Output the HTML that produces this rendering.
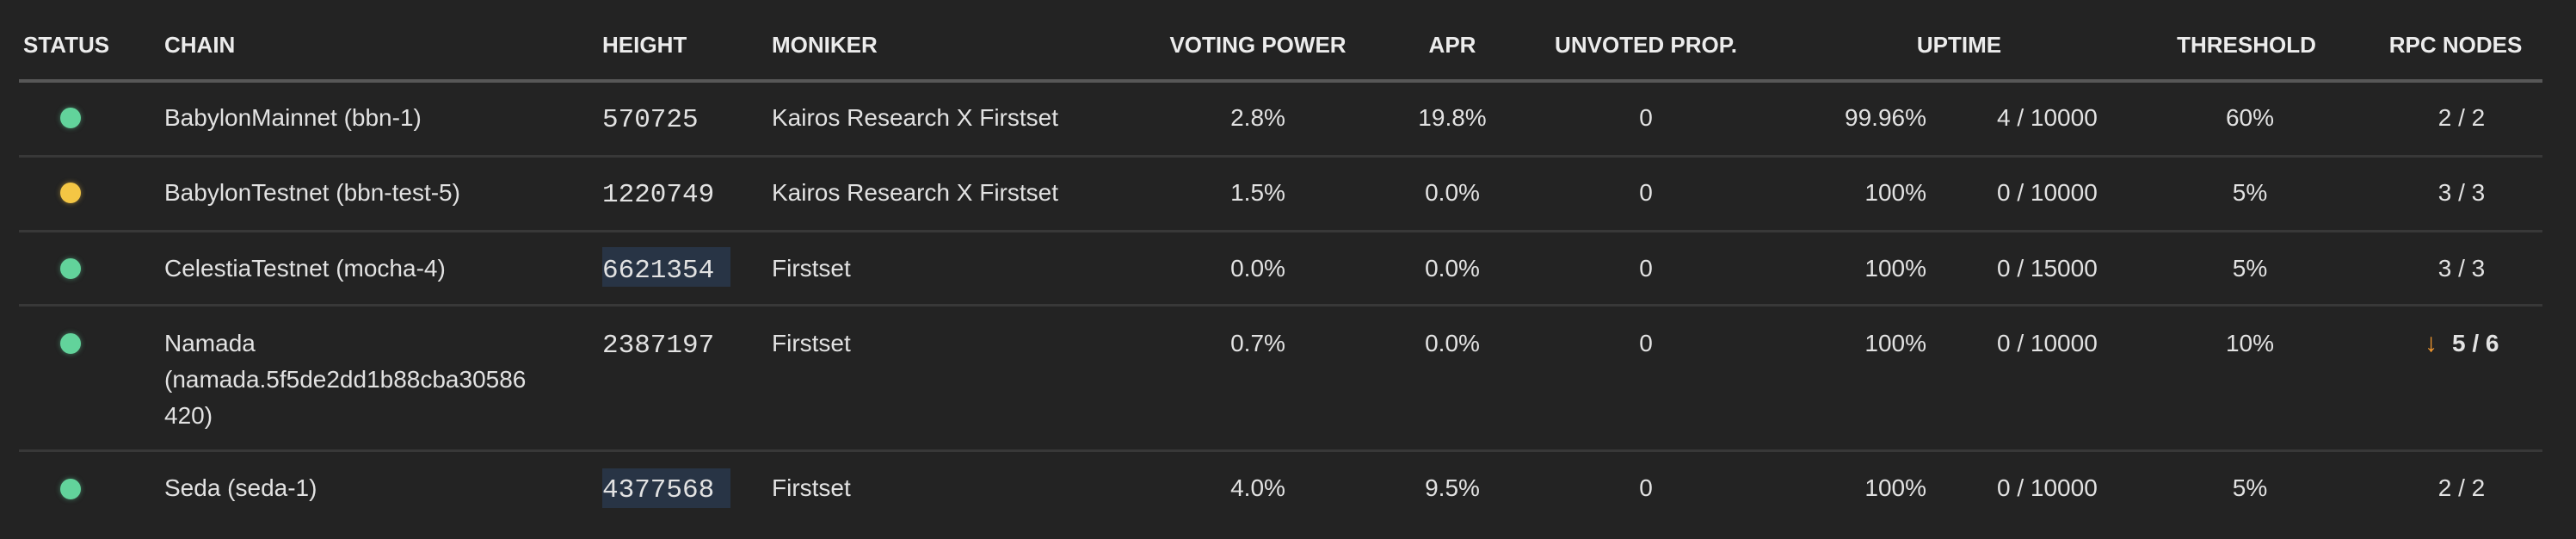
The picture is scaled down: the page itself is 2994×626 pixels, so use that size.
<!DOCTYPE html>
<html><head><meta charset="utf-8"><style>
body{margin:0;width:2994px;height:626px;background:#232323;overflow:hidden;font-family:"Liberation Sans",sans-serif;color:#e2e2e2;position:relative}
.t{position:absolute;white-space:nowrap;font-size:28px;line-height:40px}
.h{font-weight:bold;font-size:26px;color:#ececec}
.c{transform:translateX(-50%)}
.r{transform:translateX(-100%)}
.m{font-family:"Liberation Mono",monospace;font-size:31px;margin-top:3px}
.line{position:absolute;left:22px;width:2933px;height:3px;background:#383838}
.dot{position:absolute;width:24px;height:24px;border-radius:50%;left:70px}
.g{background:#62d39b;box-shadow:0 0 6px rgba(98,211,155,.5)}
.y{background:#f4c644;box-shadow:0 0 6px rgba(244,198,68,.5)}
.hl{position:absolute;left:700px;width:149px;height:46px;background:#283445}
</style></head><body>
<div class="line" style="top:92px;height:4px;background:#575757"></div>
<div class="t h" style="left:27px;top:32px">STATUS</div>
<div class="t h" style="left:191px;top:32px">CHAIN</div>
<div class="t h" style="left:700px;top:32px">HEIGHT</div>
<div class="t h" style="left:897px;top:32px">MONIKER</div>
<div class="t h c" style="left:1462px;top:32px">VOTING POWER</div>
<div class="t h c" style="left:1688px;top:32px">APR</div>
<div class="t h c" style="left:1913px;top:32px">UNVOTED PROP.</div>
<div class="t h c" style="left:2277px;top:32px">UPTIME</div>
<div class="t h c" style="left:2611px;top:32px">THRESHOLD</div>
<div class="t h c" style="left:2854px;top:32px">RPC NODES</div>

<div class="hl" style="top:287px"></div>
<div class="hl" style="top:544px"></div>

<div class="line" style="top:180px"></div>
<div class="line" style="top:267px"></div>
<div class="line" style="top:353px"></div>
<div class="line" style="top:522px"></div>

<!-- row 1 -->
<div class="dot g" style="top:125px"></div>
<div class="t" style="left:191px;top:117px">BabylonMainnet (bbn-1)</div>
<div class="t m" style="left:700px;top:117px">570725</div>
<div class="t" style="left:897px;top:117px">Kairos Research X Firstset</div>
<div class="t c" style="left:1462px;top:117px">2.8%</div>
<div class="t c" style="left:1688px;top:117px">19.8%</div>
<div class="t c" style="left:1913px;top:117px">0</div>
<div class="t r" style="left:2239px;top:117px">99.96%</div>
<div class="t" style="left:2321px;top:117px">4 / 10000</div>
<div class="t c" style="left:2615px;top:117px">60%</div>
<div class="t c" style="left:2861px;top:117px">2 / 2</div>

<!-- row 2 -->
<div class="dot y" style="top:212px"></div>
<div class="t" style="left:191px;top:204px">BabylonTestnet (bbn-test-5)</div>
<div class="t m" style="left:700px;top:204px">1220749</div>
<div class="t" style="left:897px;top:204px">Kairos Research X Firstset</div>
<div class="t c" style="left:1462px;top:204px">1.5%</div>
<div class="t c" style="left:1688px;top:204px">0.0%</div>
<div class="t c" style="left:1913px;top:204px">0</div>
<div class="t r" style="left:2239px;top:204px">100%</div>
<div class="t" style="left:2321px;top:204px">0 / 10000</div>
<div class="t c" style="left:2615px;top:204px">5%</div>
<div class="t c" style="left:2861px;top:204px">3 / 3</div>

<!-- row 3 -->
<div class="dot g" style="top:300px"></div>
<div class="t" style="left:191px;top:292px">CelestiaTestnet (mocha-4)</div>
<div class="t m" style="left:700px;top:292px">6621354</div>
<div class="t" style="left:897px;top:292px">Firstset</div>
<div class="t c" style="left:1462px;top:292px">0.0%</div>
<div class="t c" style="left:1688px;top:292px">0.0%</div>
<div class="t c" style="left:1913px;top:292px">0</div>
<div class="t r" style="left:2239px;top:292px">100%</div>
<div class="t" style="left:2321px;top:292px">0 / 15000</div>
<div class="t c" style="left:2615px;top:292px">5%</div>
<div class="t c" style="left:2861px;top:292px">3 / 3</div>

<!-- row 4 -->
<div class="dot g" style="top:387px"></div>
<div class="t" style="left:191px;top:378px;line-height:42px">Namada<br>(namada.5f5de2dd1b88cba30586<br>420)</div>
<div class="t m" style="left:700px;top:379px">2387197</div>
<div class="t" style="left:897px;top:379px">Firstset</div>
<div class="t c" style="left:1462px;top:379px">0.7%</div>
<div class="t c" style="left:1688px;top:379px">0.0%</div>
<div class="t c" style="left:1913px;top:379px">0</div>
<div class="t r" style="left:2239px;top:379px">100%</div>
<div class="t" style="left:2321px;top:379px">0 / 10000</div>
<div class="t c" style="left:2615px;top:379px">10%</div>
<div class="t" style="left:2818px;top:379px;color:#f0962e;font-size:30px">↓</div>
<div class="t" style="left:2850px;top:379px;font-weight:bold">5 / 6</div>

<!-- row 5 -->
<div class="dot g" style="top:556px"></div>
<div class="t" style="left:191px;top:547px">Seda (seda-1)</div>
<div class="t m" style="left:700px;top:547px">4377568</div>
<div class="t" style="left:897px;top:547px">Firstset</div>
<div class="t c" style="left:1462px;top:547px">4.0%</div>
<div class="t c" style="left:1688px;top:547px">9.5%</div>
<div class="t c" style="left:1913px;top:547px">0</div>
<div class="t r" style="left:2239px;top:547px">100%</div>
<div class="t" style="left:2321px;top:547px">0 / 10000</div>
<div class="t c" style="left:2615px;top:547px">5%</div>
<div class="t c" style="left:2861px;top:547px">2 / 2</div>
</body></html>
